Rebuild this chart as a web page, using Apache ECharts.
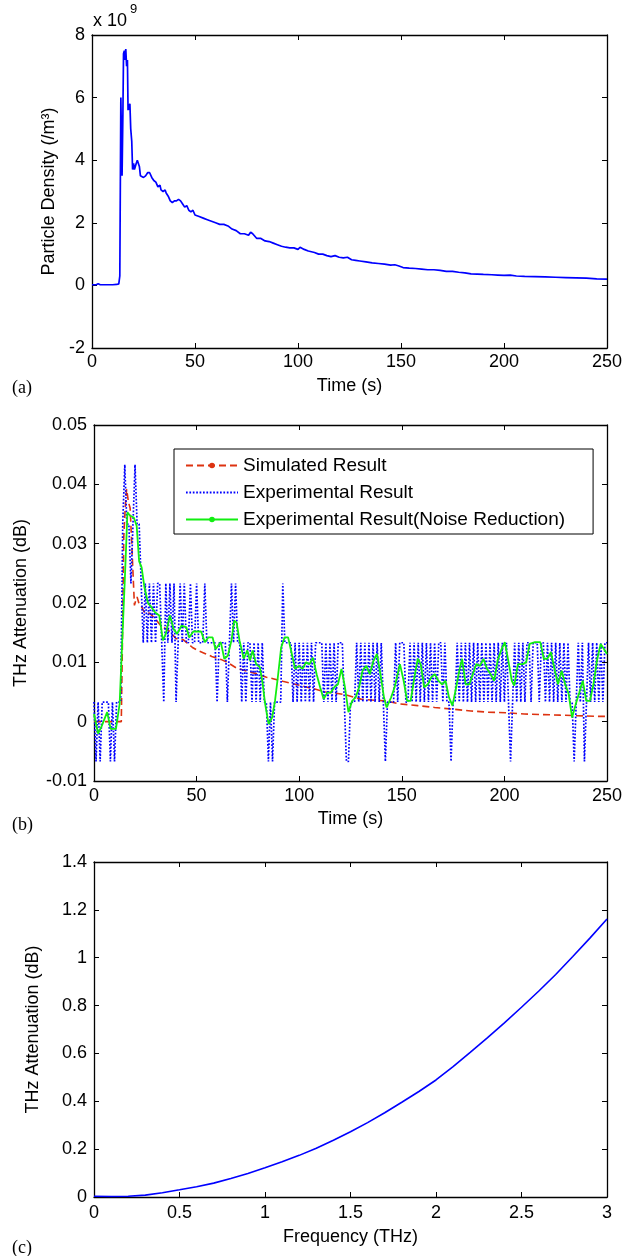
<!DOCTYPE html>
<html><head><meta charset="utf-8">
<script src="https://cdn.jsdelivr.net/npm/echarts@6/dist/echarts.min.js"></script>
<style>html,body{margin:0;padding:0;background:#fff}#c{width:637px;height:1256px}</style>
</head><body><div id="c"></div>
<script>
// ---------- Panel (a): particle density (x 10^9 /m^3) vs time ----------
const densT = [0,2,3,4,6,8,10,12,13,13.5,14,14.3,14.6,15,15.3,15.7,16,16.4,16.8,17.2,17.5,18,18.4,18.8,19.3,19.7,20.2,20.6,21,21.5,22,22.5,23,23.5,24.2,25,26,27,28,29,30,31,32,33,33.5,34.5,35.5,36,37,38,39,40,41,42,43,44,45,46,47,48,49,50,52,54,56,58,60,62,64,66,68,70,72,74,76,77,78,80,82,84,86,88,90,92,94,96,98,100,101,103,105,108,110,112,114,116,118,120,122,124,126,128,130,133,136,139,142,145,147,149,151,154,157,160,163,166,169,172,175,178,181,184,187,190,194,197,200,203,206,210,215,220,225,230,235,240,245,250];
const densV = [0.02,0.02,0.05,0.02,0.02,0.02,0.02,0.03,0.05,0.3,6.0,6.0,3.5,5.5,7.4,7.5,7.2,7.55,7.0,7.2,5.6,5.6,5.8,5.0,4.6,3.7,3.9,3.7,3.75,3.9,4.0,4.05,3.8,3.5,3.55,3.45,3.5,3.6,3.6,3.45,3.35,3.3,3.15,3.2,3.05,3.0,3.05,2.95,2.85,2.7,2.65,2.7,2.7,2.75,2.7,2.6,2.5,2.55,2.4,2.35,2.4,2.25,2.2,2.15,2.1,2.05,2.0,1.95,1.95,1.9,1.8,1.75,1.65,1.65,1.6,1.7,1.65,1.5,1.5,1.42,1.4,1.35,1.3,1.25,1.22,1.2,1.2,1.15,1.22,1.15,1.1,1.05,1.0,1.0,0.95,0.92,0.95,0.9,0.88,0.9,0.82,0.8,0.78,0.75,0.72,0.7,0.68,0.65,0.66,0.62,0.57,0.55,0.54,0.52,0.5,0.5,0.48,0.45,0.45,0.42,0.4,0.37,0.36,0.35,0.34,0.33,0.32,0.33,0.3,0.29,0.28,0.27,0.26,0.25,0.24,0.23,0.21,0.2];

// ---------- Panel (b): THz attenuation (dB) vs time ----------
const simT = [0,5,10,13.3,13.8,14.5,15.2,15.9,16.8,17.6,18.4,19.7,20.4,21,22,23,24.6,26,28,30.6,33,36,40,43.6,48,50.5,54,57.4,61.8,65,69.6,74.7,80,84,87.7,92,97,101.6,107.6,112.8,118,123,130,137,142,149,157.8,166,175,183.7,192,201,209.7,218,227,235.6,244,250];
const simV = [0,0,0,0,0.012,0.031,0.036,0.0392,0.037,0.036,0.03,0.0196,0.0205,0.021,0.0198,0.0195,0.0184,0.0185,0.018,0.017,0.016,0.0155,0.014,0.0138,0.0125,0.012,0.0115,0.011,0.0105,0.010,0.009,0.0085,0.008,0.0075,0.0072,0.0068,0.0064,0.006,0.0055,0.005,0.0048,0.0045,0.0038,0.0036,0.0035,0.003,0.0027,0.0024,0.0021,0.0018,0.0016,0.0015,0.0013,0.0012,0.0011,0.0010,0.0009,0.0009];

// Experimental result, one sample per second (t = 0 ... 250 s)
const expV = [0.0033,-0.0067,0.0033,-0.0067,0.0033,0.0033,0.0033,0.0033,-0.0067,0.0033,-0.0067,0.0033,0.0033,0.0033,0.0333,0.0433,0.0333,0.0333,0.0233,0.0333,
0.0433,0.0333,0.0333,0.0233,0.0133,0.0233,0.0133,0.0233,0.0133,0.0233,0.0133,0.0233,0.0233,0.0133,0.0033,0.0233,0.0133,0.0233,0.0133,0.0233,
0.0033,0.0133,0.0233,0.0133,0.0233,0.0133,0.0133,0.0233,0.0133,0.0133,0.0233,0.0133,0.0133,0.0133,0.0233,0.0133,0.0133,0.0133,0.0133,0.0133,
0.0033,0.0133,0.0133,0.0133,0.0133,0.0033,0.0133,0.0233,0.0133,0.0233,0.0133,0.0133,0.0033,0.0133,0.0033,0.0133,0.0133,0.0033,0.0133,0.0033,
0.0133,0.0033,0.0133,0.0033,0.0033,-0.0067,0.0033,-0.0067,0.0033,0.0033,0.0033,0.0033,0.0233,0.0133,0.0133,0.0133,0.0133,0.0033,0.0133,0.0033,
0.0133,0.0033,0.0133,0.0033,0.0133,0.0033,0.0133,0.0033,0.0133,0.0133,0.0133,0.0133,0.0033,0.0133,0.0033,0.0133,0.0033,0.0133,0.0033,0.0133,
0.0133,0.0133,0.0033,-0.0067,-0.0067,0.0033,0.0033,0.0033,0.0133,0.0033,0.0133,0.0033,0.0133,0.0033,0.0133,0.0033,0.0133,0.0033,0.0133,0.0033,
0.0133,0.0033,-0.0067,0.0033,0.0033,0.0033,0.0033,0.0133,0.0033,0.0133,0.0133,0.0133,0.0033,0.0033,0.0133,0.0033,0.0133,0.0033,0.0133,0.0033,
0.0133,0.0033,0.0133,0.0033,0.0133,0.0033,0.0133,0.0033,0.0133,0.0133,0.0033,0.0133,0.0033,0.0033,-0.0067,0.0033,0.0033,0.0133,0.0033,0.0133,
0.0033,0.0133,0.0033,0.0133,0.0033,0.0133,0.0033,0.0133,0.0033,0.0133,0.0033,0.0133,0.0033,0.0133,0.0033,0.0133,0.0033,0.0133,0.0033,0.0133,
0.0033,0.0133,0.0033,-0.0067,0.0033,0.0133,0.0033,0.0133,0.0033,0.0133,0.0033,0.0133,0.0133,0.0033,0.0133,0.0133,0.0133,0.0033,0.0133,0.0133,
0.0033,0.0133,0.0033,0.0133,0.0033,0.0133,0.0033,0.0133,0.0033,0.0133,0.0033,0.0133,0.0033,0.0033,-0.0067,0.0033,0.0133,0.0033,0.0133,-0.0067,
0.0033,0.0133,0.0033,0.0133,0.0033,0.0133,0.0033,0.0133,0.0033,0.0133,0.0133];

const nrT = [0,2,3.8,6.4,8.1,10.7,12.5,13.8,15,16.3,17.6,19.4,20.8,22,23.2,24.6,26.3,28,29.8,31.8,33.6,35,37,38.8,40.5,42.7,45,46.4,48.4,52.2,54,55.7,57.8,59.2,61.8,63.5,65.2,67,68.3,69.5,70.9,73,74.7,76,77.3,79,80.8,82,83.4,85.1,86.8,88.2,89.4,91.2,92.9,94.6,96.4,98,99.8,101.6,103.3,105,106.7,108.5,110.2,111.9,113.7,115.4,117.1,118.9,120.6,122.3,124,125.8,127.5,129.2,130.9,132.7,134.4,136.2,137.9,139.6,141.3,142.6,144.8,146.5,149.1,150.9,152.6,154.3,156.4,157.8,159.2,160.9,162.7,164.4,166.1,167.8,169.6,171.3,173,174.7,176.5,178.2,179.4,181.1,182.9,184.6,186.3,188.1,189.8,191.5,193.3,195,196.7,198.4,200.2,201.9,203.6,204.8,206.6,208.8,210.6,212.3,214.9,217.5,219.2,220.9,222.7,224.4,226.1,227.9,229.6,231.3,233,234.8,236.5,238.2,239.9,241.7,243.4,245.1,246.9,248.6,250];
const nrV = [0.0013,-0.002,-0.0007,0.0016,-0.0012,-0.0012,0.003,0.014,0.0238,0.0353,0.0347,0.0344,0.033,0.027,0.026,0.0226,0.020,0.0193,0.0184,0.0179,0.0137,0.0148,0.0179,0.0156,0.0148,0.0162,0.0159,0.0142,0.0152,0.0152,0.0134,0.0142,0.0142,0.0122,0.0134,0.0106,0.0111,0.0137,0.017,0.0167,0.0137,0.0106,0.012,0.0103,0.012,0.0097,0.0092,0.0069,0.003,-0.0004,0.0007,0.0035,0.0069,0.0125,0.0142,0.0142,0.0114,0.0089,0.0094,0.0089,0.010,0.0097,0.0108,0.008,0.0058,0.0038,0.0049,0.0049,0.0058,0.0063,0.0089,0.0058,0.0016,0.0035,0.0041,0.0058,0.0086,0.0094,0.008,0.0103,0.0114,0.008,0.0041,0.0024,0.0041,0.0058,0.0097,0.0069,0.0035,0.0035,0.008,0.0106,0.0097,0.0058,0.0063,0.0075,0.008,0.0069,0.0063,0.0069,0.0041,0.0027,0.0058,0.0089,0.0106,0.0063,0.0063,0.008,0.0097,0.0094,0.0106,0.0089,0.008,0.0069,0.0103,0.012,0.0134,0.0103,0.0069,0.0061,0.0097,0.0097,0.010,0.0131,0.0134,0.0134,0.0106,0.0106,0.0117,0.0089,0.0063,0.0086,0.0063,0.0047,0.0007,0.003,0.0049,0.0069,0.0035,0.0035,0.0063,0.0103,0.0131,0.0122,0.0114];

// ---------- Panel (c): THz attenuation (dB) vs frequency ----------
const freqF = [0,0.1,0.2,0.3,0.4,0.5,0.6,0.7,0.8,0.9,1.0,1.1,1.2,1.3,1.4,1.5,1.6,1.7,1.8,1.9,2.0,2.1,2.2,2.3,2.4,2.5,2.6,2.7,2.8,2.9,3.0];
const freqV = [0.003,0.002,0.003,0.008,0.018,0.03,0.043,0.058,0.077,0.098,0.122,0.147,0.174,0.204,0.237,0.273,0.311,0.352,0.396,0.441,0.489,0.545,0.604,0.665,0.728,0.793,0.86,0.93,1.005,1.082,1.162];

const legendNames = ['Simulated Result','Experimental Result','Experimental Result(Noise Reduction)'];

// ---------- build ----------
const FONT = 'Liberation Sans, Arial, Helvetica, sans-serif';
const SERIF = 'Liberation Serif, Times New Roman, serif';
const zip = (a, b) => a.map((x, i) => [x, b[i]]);

function axisLine() { return { show: true, onZero: false, lineStyle: { color: '#000', width: 1.3 } }; }
function tick() { return { show: true, inside: true, length: 5, lineStyle: { color: '#000', width: 1 } }; }

function xPair(grid, min, max, interval, name, labelMargin, nameGap) {
  return [
    { type: 'value', gridIndex: grid, position: 'bottom', min, max, interval,
      axisLine: axisLine(), axisTick: tick(), splitLine: { show: false },
      axisLabel: { color: '#000', fontSize: 18, fontFamily: FONT, margin: labelMargin, showMinLabel: true, showMaxLabel: true },
      name, nameLocation: 'middle', nameGap,
      nameTextStyle: { color: '#000', fontSize: 18, fontFamily: FONT } },
    { type: 'value', gridIndex: grid, position: 'top', min, max, interval,
      axisLine: axisLine(), axisTick: tick(), splitLine: { show: false }, axisLabel: { show: false } }
  ];
}
function yPair(grid, min, max, interval, name, nameGap) {
  return [
    { type: 'value', gridIndex: grid, position: 'left', min, max, interval,
      axisLine: axisLine(), axisTick: tick(), splitLine: { show: false },
      axisLabel: { color: '#000', fontSize: 18, fontFamily: FONT, margin: 7, showMinLabel: true, showMaxLabel: true },
      name, nameLocation: 'middle', nameGap,
      nameTextStyle: { color: '#000', fontSize: 18, fontFamily: FONT } },
    { type: 'value', gridIndex: grid, position: 'right', min, max, interval,
      axisLine: axisLine(), axisTick: tick(), splitLine: { show: false }, axisLabel: { show: false } }
  ];
}

const RED = '#dd3311', BLUE = '#0000ff', GREEN = '#11ee11';

const option = {
  animation: false,
  backgroundColor: '#fff',
  grid: [
    { left: 92, right: 30, top: 35, height: 313, outerBoundsMode: 'none' },
    { left: 94, right: 30, top: 425, height: 356, outerBoundsMode: 'none' },
    { left: 94, right: 30, top: 862, height: 335, outerBoundsMode: 'none' }
  ],
  xAxis: [
    ...xPair(0, 0, 250, 50, 'Time (s)', 5, 29),
    ...xPair(1, 0, 250, 50, 'Time (s)', 6, 29),
    ...xPair(2, 0, 3, 0.5, 'Frequency (THz)', 7, 31)
  ],
  yAxis: [
    ...yPair(0, -2, 8, 2, 'Particle Density (/m³)', 34),
    ...yPair(1, -0.01, 0.05, 0.01, 'THz Attenuation (dB)', 64),
    ...yPair(2, 0, 1.4, 0.2, 'THz Attenuation (dB)', 52)
  ],
  legend: {
    data: [
      { name: legendNames[0] },
      { name: legendNames[1], itemStyle: { opacity: 0 } },
      { name: legendNames[2] }
    ],
    orient: 'vertical', left: 174, top: 449,
    backgroundColor: '#fff', borderColor: '#000', borderWidth: 1,
    padding: [7, 28, 5, 11],
    itemWidth: 52, itemHeight: 7, itemGap: 8,
    textStyle: { color: '#000', fontSize: 19, fontFamily: FONT, lineHeight: 18 }
  },
  series: [
    { type: 'line', name: 'density', xAxisIndex: 0, yAxisIndex: 0, data: zip(densT, densV),
      symbol: 'none', lineStyle: { color: BLUE, width: 1.7 }, itemStyle: { color: BLUE } },
    { type: 'line', name: legendNames[0], xAxisIndex: 2, yAxisIndex: 2, data: zip(simT, simV),
      symbol: 'circle', symbolSize: 6, showSymbol: false,
      lineStyle: { color: RED, width: 1.6, type: [7, 4] }, itemStyle: { color: RED } },
    { type: 'line', name: legendNames[1], xAxisIndex: 2, yAxisIndex: 2, data: expV.map((v, i) => [i, v]),
      symbol: 'none', lineStyle: { color: BLUE, width: 1.7, type: [1.7, 1.7] }, itemStyle: { color: BLUE } },
    { type: 'line', name: legendNames[2], xAxisIndex: 2, yAxisIndex: 2, data: zip(nrT, nrV),
      symbol: 'circle', symbolSize: 6, showSymbol: false,
      lineStyle: { color: GREEN, width: 1.8 }, itemStyle: { color: GREEN } },
    { type: 'line', name: 'attenuation', xAxisIndex: 4, yAxisIndex: 4, data: zip(freqF, freqV),
      symbol: 'none', smooth: false, lineStyle: { color: BLUE, width: 1.6 }, itemStyle: { color: BLUE } }
  ],
  graphic: [
    { type: 'text', left: 93, top: 12, style: { text: 'x 10', fontSize: 18, fontFamily: FONT, fill: '#000' } },
    { type: 'text', left: 130, top: 3, style: { text: '9', fontSize: 13, fontFamily: FONT, fill: '#000' } },
    { type: 'text', left: 12, top: 379, style: { text: '(a)', fontSize: 18, fontFamily: SERIF, fill: '#000' } },
    { type: 'text', left: 12, top: 816, style: { text: '(b)', fontSize: 18, fontFamily: SERIF, fill: '#000' } },
    { type: 'text', left: 12, top: 1239, style: { text: '(c)', fontSize: 18, fontFamily: SERIF, fill: '#000' } }
  ]
};

const chart = echarts.init(document.getElementById('c'), null, { renderer: 'canvas' });
chart.setOption(option);
</script>
</body></html>
